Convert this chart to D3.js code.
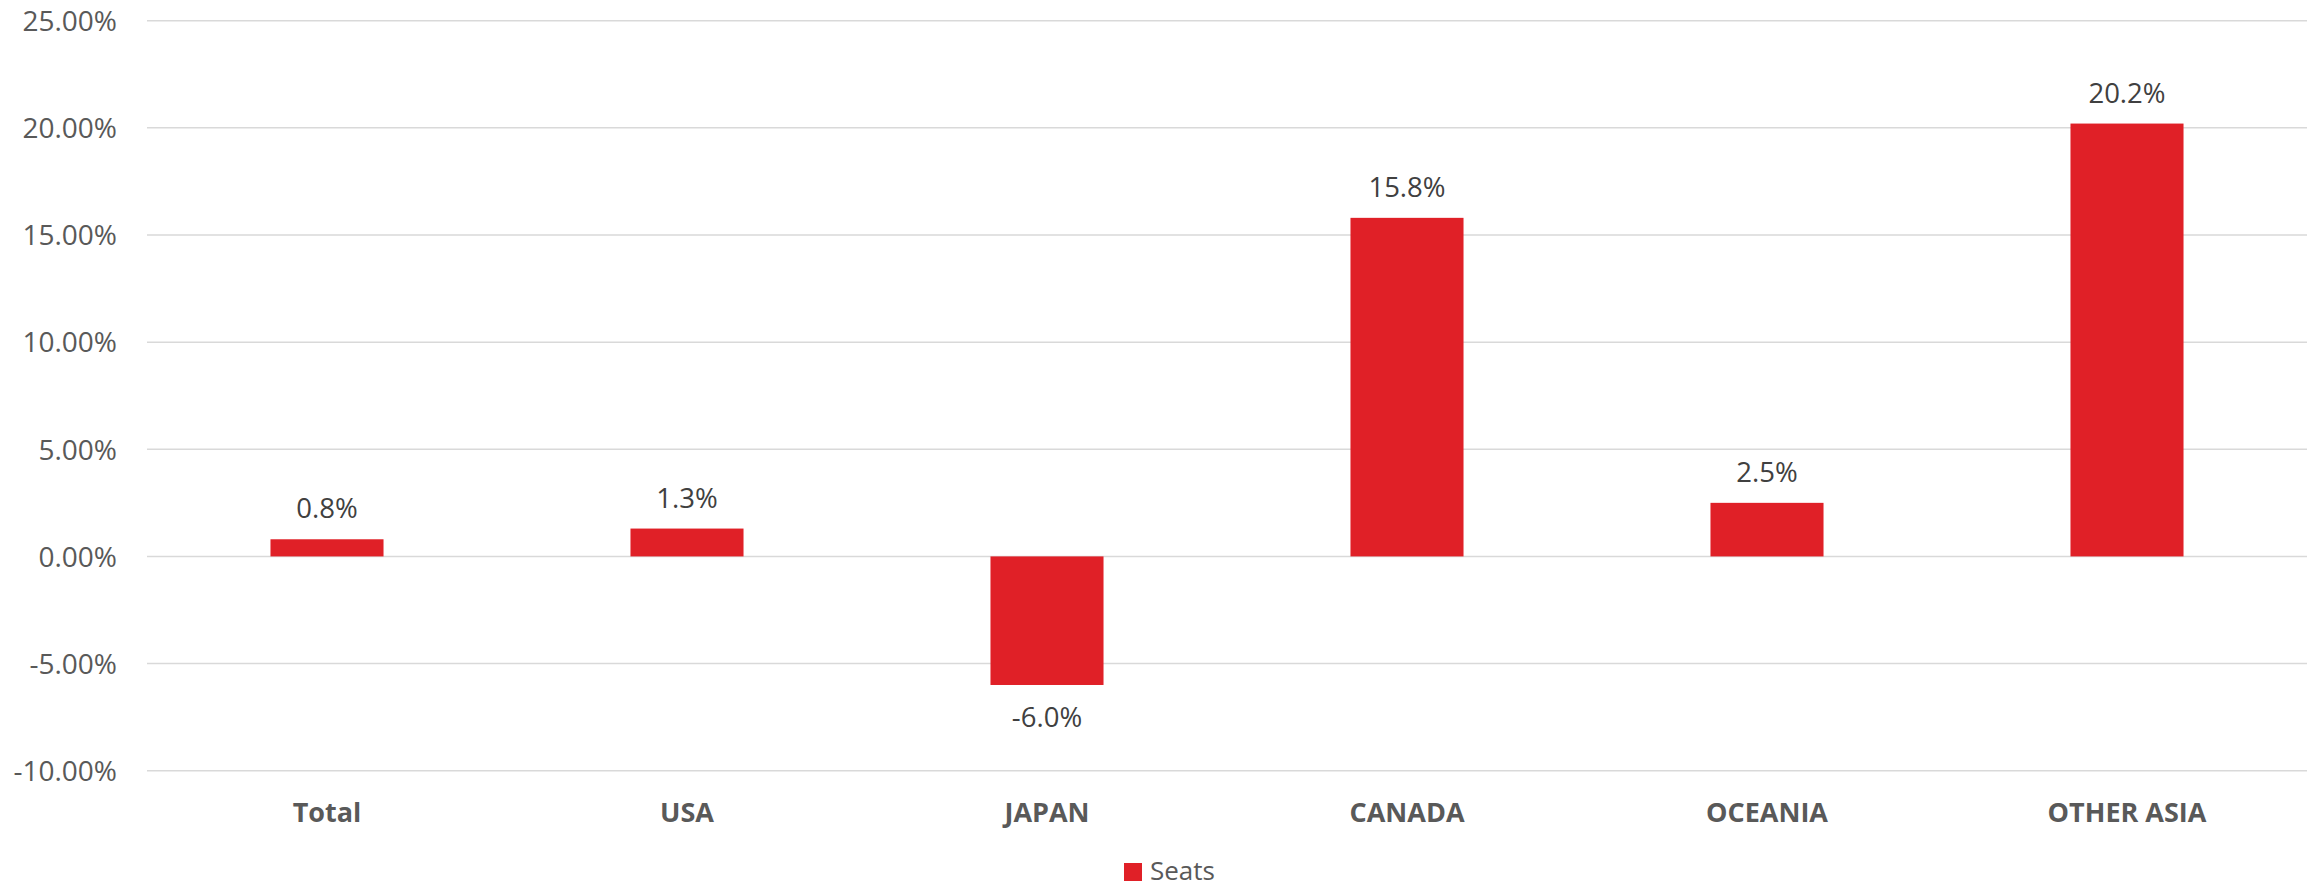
<!DOCTYPE html>
<html><head><meta charset="utf-8">
<script src="https://cdn.jsdelivr.net/npm/d3@7"></script>
<style>body{margin:0;background:#fff}svg{display:block}</style>
</head><body>
<svg id="c" width="2316" height="889"></svg>
<script>
const categories = ["Total", "USA", "JAPAN", "CANADA", "OCEANIA", "OTHER ASIA"];
const seats = [0.8, 1.3, -6.0, 15.8, 2.5, 20.2];
const yTicks = [-10, -5, 0, 5, 10, 15, 20, 25];
const seriesName = "Seats";

(function () {
const svg = d3.select("#c");
const plotLeft = 147, plotRight = 2307, plotTop = 20.7, plotBottom = 770.7;
const font = "'Open Sans', sans-serif";

const x = d3.scaleBand().domain(categories).range([plotLeft, plotRight]).paddingInner(0.686).paddingOuter(0.343);
const y = d3.scaleLinear().domain([-10, 25]).range([plotBottom, plotTop]);

// gridlines
svg.append("g").selectAll("line").data(yTicks).join("line")
  .attr("x1", plotLeft).attr("x2", plotRight)
  .attr("y1", d => y(d)).attr("y2", d => y(d))
  .attr("stroke", "#D9D9D9").attr("stroke-width", 1.5);

// y labels
const yAxis = d3.axisLeft(y).tickValues(yTicks).tickSize(0).tickPadding(0)
  .tickFormat(d => d.toFixed(2) + "%");
const gy = svg.append("g").attr("transform", `translate(117,0)`).call(yAxis);
gy.select(".domain").remove();
gy.selectAll("text").attr("font-family", font).attr("font-size", 28).attr("fill", "#595959")
  .attr("dy", "0.35em");

// bars
svg.append("g").selectAll("rect").data(seats).join("rect")
  .attr("x", (d, i) => x(categories[i]))
  .attr("width", x.bandwidth())
  .attr("y", d => y(Math.max(0, d)))
  .attr("height", d => Math.abs(y(d) - y(0)))
  .attr("fill", "#E02027");

// data labels
svg.append("g").selectAll("text").data(seats).join("text")
  .attr("x", (d, i) => x(categories[i]) + x.bandwidth() / 2)
  .attr("y", d => d >= 0 ? y(d) - 21 : y(d) + 42)
  .attr("text-anchor", "middle")
  .attr("font-family", font).attr("font-size", 27.5).attr("fill", "#404040")
  .text(d => d.toFixed(1) + "%");

// x axis labels
const xAxis = d3.axisBottom(x).tickSize(0).tickPadding(0);
const gx = svg.append("g").attr("transform", `translate(0,821.5)`).call(xAxis);
gx.select(".domain").remove();
gx.selectAll("text").attr("font-family", font).attr("font-size", 27).attr("font-weight", "bold")
  .attr("fill", "#595959").attr("dy", 0);

// legend
const lg = svg.append("g");
lg.append("rect").attr("x", 1124).attr("y", 863).attr("width", 18).attr("height", 18).attr("fill", "#E02027");
lg.append("text").attr("x", 1150).attr("y", 880).attr("font-family", font).attr("font-size", 26)
  .attr("fill", "#595959").text(seriesName);
})();
</script>
</body></html>
